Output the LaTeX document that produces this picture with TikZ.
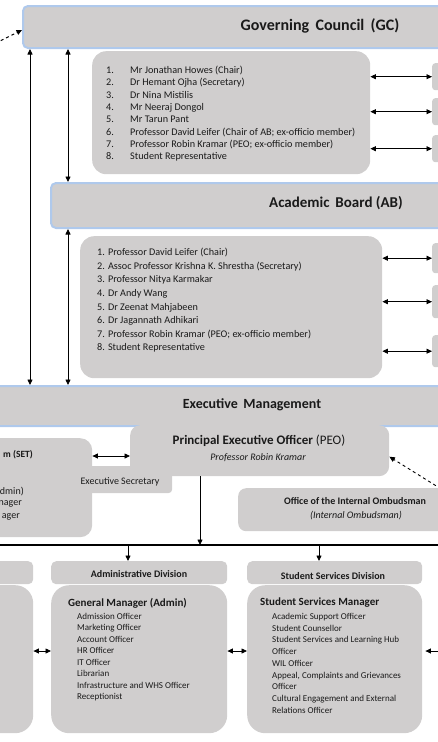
\documentclass[tikz,border=0pt]{standalone}
\usepackage{fontspec}
\setmainfont{Carlito}
\usetikzlibrary{positioning,arrows.meta}

\definecolor{boxgray}{HTML}{D0CECE}
\definecolor{glow}{HTML}{AFC9EC}
\definecolor{inktext}{HTML}{1A1A1A}

\newcommand{\lno}[1]{\makebox[24pt][l]{#1}}

\tikzset{
    panel/.style={fill=boxgray, rounded corners=#1, inner sep=0pt, anchor=north west},
    panel/.default=12pt,
    bar/.style={fill=boxgray, draw=glow, line width=2pt, rounded corners=5pt, inner sep=0pt, anchor=north west},
    heading/.style={font=\bfseries\fontsize{#1}{#1}\selectfont, text=inktext, inner sep=0pt},
    members/.style={font=\fontsize{10.2}{#1}\selectfont, text=inktext, align=left, inner sep=0pt, anchor=north west},
    staff/.style={font=\fontsize{9}{#1}\selectfont, text=inktext, align=left, inner sep=0pt, anchor=north west},
    plain/.style={font=\fontsize{#1}{#1}\selectfont, text=inktext, inner sep=0pt},
    link/.style={<->, line width=0.8pt},
    feed/.style={->, line width=0.8pt},
    hint/.style={->, dashed, line width=0.9pt},
    >={Triangle[length=5.5pt,width=5pt]}
}

\begin{document}
\begin{tikzpicture}[x=1pt,y=-1pt]
    \useasboundingbox (0,0) rectangle (438,742);
    \clip (0,0) rectangle (438,742);

    % Governing Council
    \node[bar, minimum width=500pt, minimum height=42pt] (gc) at (22,5) {};
    \node[heading=16] (gctitle) at (320,26) {Governing\, Council\, (GC)};
    \node[panel=14pt, minimum width=278pt, minimum height=123pt] (gcm) at (92,51) {};
    \node[members=12.3] (gclist) at (106,66) {\lno{1.}Mr Jonathan Howes (Chair)\\
        \lno{2.}Dr Hemant Ojha (Secretary)\\
        \lno{3.}Dr Nina Mistilis\\
        \lno{4.}Mr Neeraj Dongol\\
        \lno{5.}Mr Tarun Pant\\
        \lno{6.}Professor David Leifer (Chair of AB; ex-officio member)\\
        \lno{7.}Professor Robin Kramar (PEO; ex-officio member)\\
        \lno{8.}Student Representative};
    \node[panel=3pt, minimum width=20pt, minimum height=27pt] (gcr1) at (432,63) {};
    \node[panel=3pt, minimum width=20pt, minimum height=27pt] (gcr2) at (432,98) {};
    \node[panel=3pt, minimum width=20pt, minimum height=27pt] (gcr3) at (432,135) {};
    \draw[link] (gcm.east |- gcr1.west) -- (gcr1.west);
    \draw[link] (gcm.east |- gcr2.west) -- (gcr2.west);
    \draw[link] (gcm.east |- gcr3.west) -- (gcr3.west);

    % Academic Board
    \node[bar, minimum width=470pt, minimum height=45pt] (ab) at (50,182) {};
    \node[heading=15] (abtitle) at (336,203) {Academic\, Board (AB)};
    \node[panel=14pt, minimum width=302pt, minimum height=142pt] (abm) at (80,236) {};
    \node[members=13.6] (ablist) at (97,248) {1. Professor David Leifer (Chair)\\
        2. Assoc Professor Krishna K. Shrestha (Secretary)\\
        3. Professor Nitya Karmakar\\
        4. Dr Andy Wang\\
        5. Dr Zeenat Mahjabeen\\
        6. Dr Jagannath Adhikari\\
        7. Professor Robin Kramar (PEO; ex-officio member)\\
        8. Student Representative};
    \node[panel=3pt, minimum width=20pt, minimum height=30pt] (abr1) at (432,243) {};
    \node[panel=3pt, minimum width=20pt, minimum height=33pt] (abr2) at (432,285) {};
    \node[panel=3pt, minimum width=20pt, minimum height=32pt] (abr3) at (432,335) {};
    \draw[link] (abm.east |- abr1.west) -- (abr1.west);
    \draw[link] (abm.east |- abr2.west) -- (abr2.west);
    \draw[link] (abm.east |- abr3.west) -- (abr3.west);

    % Executive Management
    \node[bar, minimum width=460pt, minimum height=40pt] (em) at (-10,385) {};
    \node[heading=14] (emtitle) at (252,405) {Executive\, Management};

    % links down the left side
    \coordinate (lx) at (30,0);
    \coordinate (mx) at (68,0);
    \draw[link] (gc.south -| lx) -- (em.north -| lx);
    \draw[link] (gc.south -| mx) -- (ab.north -| mx);
    \draw[link] (ab.south -| mx) -- (em.north -| mx);
    \coordinate (gcin) at (-10,46);
    \draw[hint] (gcin) -- ([yshift=-3pt]gc.west);

    % SET, PEO and the offices beside it
    \node[panel=12pt, minimum width=112pt, minimum height=99pt] (set) at (-20,438) {};
    \node[heading=9.5, anchor=east] (settitle) at (33,455) {m (SET)};
    \node[plain=10, anchor=east] (set1) at (24,492) {dmin)};
    \node[plain=10, anchor=east] (set2) at (22,504) {nager};
    \node[plain=10, anchor=east] (set3) at (20,517) {ager};
    \node[panel=4pt, minimum width=97pt, minimum height=27pt] (exsec) at (75,466) {};
    \node[plain=10] (exsectext) at (120,482) {Executive Secretary};
    \node[panel=10pt, minimum width=259pt, minimum height=51pt] (peo) at (130,425) {};
    \node[plain=13] (peotitle) at (259,441) {\textbf{Principal Executive Officer} (PEO)};
    \node[plain=9.5, font=\itshape\fontsize{10}{10}\selectfont] (peoname) at (258,458) {Professor Robin Kramar};
    \coordinate (setpeo) at (0,456);
    \draw[link] (set.east |- setpeo) -- (peo.west |- setpeo);

    \node[panel=8pt, minimum width=220pt, minimum height=43pt] (omb) at (238,488) {};
    \node[heading=10] (ombtitle) at (355,501) {Office of the Internal Ombudsman};
    \node[plain=10, font=\itshape\fontsize{10}{10}\selectfont] (ombname) at (356,516) {(Internal Ombudsman)};
    \coordinate (ombin) at (446,492);
    \draw[hint] (ombin) -- ([yshift=-6pt]peo.east);

    % reporting line to the divisions
    \coordinate (busl) at (-5,545);
    \coordinate (busr) at (445,545);
    \draw[line width=1.2pt] (busl) -- (busr);
    \coordinate (px) at (200,0);
    \draw[feed] (peo.south -| px) -- (busl -| px);

    % divisions
    \node[panel=5pt, minimum width=53pt, minimum height=23pt] (lefth) at (-20,561) {};
    \node[panel=5pt, minimum width=176pt, minimum height=23pt] (admh) at (51,561) {};
    \node[panel=5pt, minimum width=175pt, minimum height=23pt] (stuh) at (247,561) {};
    \node[heading=10] (admtitle) at (139,574) {Administrative Division};
    \node[heading=10] (stutitle) at (333,576) {Student Services Division};
    \coordinate (ax) at (128,0);
    \coordinate (sx) at (319,0);
    \draw[feed] (busl -| ax) -- (admh.north -| ax);
    \draw[feed] (busl -| sx) -- (stuh.north -| sx);

    \node[panel=18pt, minimum width=53pt, minimum height=148pt] (leftb) at (-20,585) {};
    \node[panel=18pt, minimum width=176pt, minimum height=148pt] (admb) at (51,585) {};
    \node[panel=18pt, minimum width=175pt, minimum height=148pt] (stub) at (247,585) {};

    \node[heading=11, anchor=west] (admhead) at (68,603) {General Manager (Admin)};
    \node[staff=11.5] (admlist) at (77,613) {Admission Officer\\
        Marketing Officer\\
        Account Officer\\
        HR Officer\\
        IT Officer\\
        Librarian\\
        Infrastructure and WHS Officer\\
        Receptionist};
    \node[heading=11, anchor=west] (stuhead) at (260,603) {Student Services Manager};
    \node[staff=11.75] (stulist) at (272,613) {Academic Support Officer\\
        Student Counsellor\\
        Student Services and Learning Hub\\
        Officer\\
        WIL Officer\\
        Appeal, Complaints and Grievances\\
        Officer\\
        Cultural Engagement and External\\
        Relations Officer};

    \coordinate (dy) at (0,651);
    \coordinate (rightend) at (445,651);
    \draw[link] (leftb.east |- dy) -- (admb.west |- dy);
    \draw[link] (admb.east |- dy) -- (stub.west |- dy);
    \draw[link, shorten <=3pt] (stub.east |- dy) -- (rightend);
\end{tikzpicture}
\end{document}
